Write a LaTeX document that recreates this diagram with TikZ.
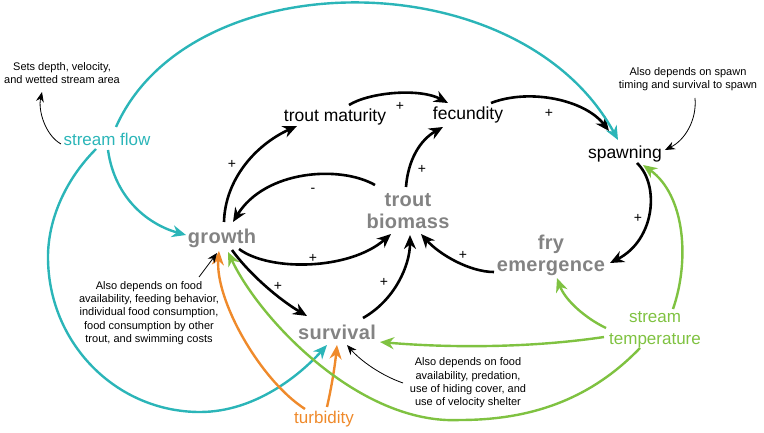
\documentclass[tikz,border=0pt]{standalone}
\usepackage{fontspec}
\setmainfont{Liberation Sans}
\newfontfamily\gbf[LetterSpace=1.5]{Liberation Sans Bold}
\usetikzlibrary{arrows.meta}
\definecolor{flowc}{HTML}{2BB5B8}
\definecolor{tempc}{HTML}{7FC241}
\definecolor{turbc}{HTML}{EF8A2B}
\definecolor{grayt}{HTML}{838383}
\begin{document}
\begin{tikzpicture}[x=1pt,y=-1pt,
  gnode/.style={font=\gbf\fontsize{20}{22}\selectfont, text=grayt, align=center, inner sep=0pt},
  bnode/.style={font=\fontsize{17.5}{21}\selectfont, inner sep=0pt},
  cnode/.style={font=\fontsize{17}{22}\selectfont, inner sep=0pt, align=center},
  note/.style={font=\fontsize{11}{13.3}\selectfont, align=center, inner sep=0pt},
  pl/.style={font=\fontsize{14}{14}\selectfont, inner sep=0pt},
  blk/.style={line width=2.6pt, -{Stealth[length=14pt,width=12pt]}},
  cyn/.style={line width=2.4pt, draw=flowc, -{Stealth[length=14pt,width=12pt]}},
  grn/.style={line width=2.4pt, draw=tempc, -{Stealth[length=14pt,width=12pt]}},
  org/.style={line width=2.4pt, draw=turbc, -{Stealth[length=14pt,width=12pt]}},
  thin/.style={line width=0.8pt, -{Stealth[length=10pt,width=8pt]}}
]
\useasboundingbox (0,0) rectangle (764,433);
% nodes
\node[gnode] (growth) at (222,238) {growth};
\node[bnode] (tm) at (335,117) {trout maturity};
\node[bnode] (fec) at (468,115) {fecundity};
\node[bnode] (spawn) at (625,154) {spawning};
\node[gnode] (bio) at (408,211) {trout\\biomass};
\node[gnode] (fry) at (551,255) {fry\\emergence};
\node[gnode] (surv) at (337,332) {survival};
\node[cnode, text=turbc] (turb) at (324,419) {turbidity};
\node[cnode, text=tempc] (temp) at (655,330) {stream\\temperature};
\node[cnode, text=flowc] (flow) at (107,139) {stream flow};
\node[note] (nflow) at (62,73) {Sets depth, velocity,\\and wetted stream area};
\node[note] (nspawn) at (688,79) {Also depends on spawn\\timing and survival to spawn};
\node[note] (ngrowth) at (149,313) {Also depends on food\\availability, feeding behavior,\\individual food consumption,\\food consumption by other\\trout, and swimming costs};
\node[note] (nsurv) at (468,383) {Also depends on food\\availability, predation,\\use of hiding cover, and\\use of velocity shelter};

% black causal links
\draw[blk] ([shift={(2,-16)}]growth.center) .. controls (225,180) and (255,145) .. ([shift={(-38,9)}]tm.center);
\draw[blk] ([shift={(14,-12)}]tm.center) .. controls (370,92) and (420,88) .. ([shift={(-20,-12)}]fec.center);
\draw[blk] ([shift={(23,-12)}]fec.center) .. controls (530,88) and (585,100) .. ([shift={(-16,-23)}]spawn.center);
\draw[blk] ([shift={(12,9)}]spawn.center) .. controls (660,185) and (655,240) .. ([shift={(59,8)}]fry.center);
\draw[blk] ([shift={(-57,17)}]fry.center) .. controls (470,272) and (440,255) .. ([shift={(13,23)}]bio.center);
\draw[blk] ([shift={(-2,-24)}]bio.center) .. controls (408,160) and (420,140) .. ([shift={(-25,12)}]fec.center);
\draw[blk] ([shift={(-33,-26)}]bio.center) .. controls (340,165) and (265,170) .. ([shift={(11,-16)}]growth.center);
\draw[blk] ([shift={(17,11)}]growth.center) .. controls (270,272) and (350,270) .. ([shift={(-17,23)}]bio.center);
\draw[blk] ([shift={(10,12)}]growth.center) .. controls (250,275) and (280,300) .. ([shift={(-30,-16)}]surv.center);
\draw[blk] ([shift={(26,-14)}]surv.center) .. controls (395,300) and (410,265) .. ([shift={(2,24)}]bio.center);

% signs
\node[pl] (p1) at (232,164) {+};
\node[pl] (p2) at (400,106) {+};
\node[pl] (p3) at (549,113) {+};
\node[pl] (p4) at (638,218) {+};
\node[pl] (p5) at (463,255) {+};
\node[pl] (p6) at (422,169) {+};
\node[pl] (m7) at (313,190) {-};
\node[pl] (p8) at (313,258) {+};
\node[pl] (p9) at (278,286) {+};
\node[pl] (p10) at (384,282) {+};

% stream flow links
\draw[cyn] ([shift={(9,-12)}]flow.center) .. controls (190,-40) and (520,-40) .. ([shift={(-7,-14)}]spawn.center);
\draw[cyn] ([shift={(1,11)}]flow.center) .. controls (115,200) and (150,225) .. ([shift={(-36,-3)}]growth.center);
\draw[cyn] ([shift={(-11,10)}]flow.center) .. controls (65,180) and (48,220) .. (48,257)
  .. controls (48,343) and (116,412) .. (200,412)
  .. controls (255,412) and (300,375) .. ([shift={(-10,13)}]surv.center);

% turbidity links
\draw[org] ([shift={(-19,-10)}]turb.center) .. controls (260,380) and (215,300) .. ([shift={(-3,13)}]growth.center);
\draw[org] ([shift={(3,-12)}]turb.center) .. controls (332,385) and (335,365) .. ([shift={(0,13)}]surv.center);

% temperature links
\draw[grn] ([shift={(18,-21)}]temp.center) .. controls (690,260) and (685,195) .. ([shift={(18,11)}]spawn.center);
\draw[grn] ([shift={(-49,-2)}]temp.center) .. controls (585,318) and (565,300) .. ([shift={(6,23)}]fry.center);
\draw[grn] ([shift={(-51,7)}]temp.center) .. controls (530,348) and (450,348) .. ([shift={(43,10)}]surv.center);
\draw[grn] ([shift={(-15,18)}]temp.center) .. controls (590,400) and (530,420) .. (460,420)
  .. controls (360,425) and (260,320) .. ([shift={(6,14)}]growth.center);

% annotation pointers
\draw[thin] ([shift={(-46,5)}]flow.center) .. controls (45,135) and (38,110) .. ([shift={(-20,19)}]nflow.center);
\draw[thin] ([shift={(7,19)}]nspawn.center) .. controls (697,120) and (685,140) .. ([shift={(40,-4)}]spawn.center);
\draw[thin] ([shift={(50,-36)}]ngrowth.center) -- ([shift={(-5,15)}]growth.center);
\draw[thin] ([shift={(-65,0)}]nsurv.center) .. controls (380,375) and (360,360) .. ([shift={(10,13)}]surv.center);
\end{tikzpicture}
\end{document}
